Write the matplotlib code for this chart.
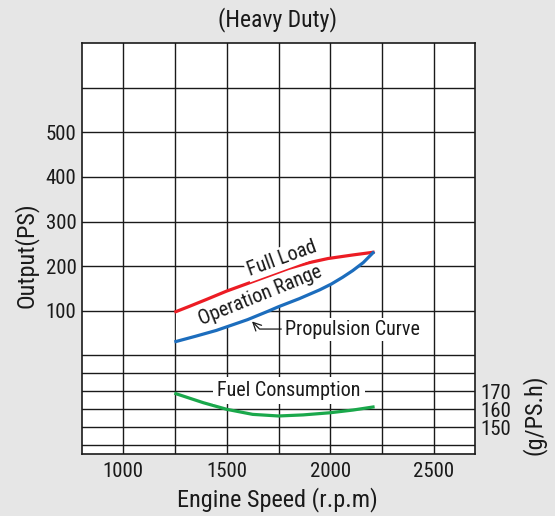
import numpy as np
import matplotlib
matplotlib.use("Agg")
import matplotlib.pyplot as plt

# ── data ────────────────────────────────────────────────
rpm_full = [1254, 1320, 1400, 1499, 1600, 1700, 1800, 1900, 1989, 2109, 2207]
ps_full = [98, 110, 125, 144, 161, 178, 195, 208, 217, 225, 231]

rpm_prop = [1254, 1350, 1450, 1500, 1600, 1700, 1750, 1850, 1950, 2006,
            2060, 2109, 2160, 2207]
ps_prop = [31, 43, 56, 64, 80, 99, 109, 127, 147, 160, 175, 190, 208, 230]

rpm_fuel = [1254, 1386, 1500, 1625, 1750, 1869, 2000, 2110, 2207]
gph_fuel = [168.7, 163.7, 160.0, 157.2, 156.3, 156.9, 158.1, 159.6, 161.3]

x_labels = [1000, 1500, 2000, 2500]
ps_labels = [100, 200, 300, 400, 500]
fuel_labels = [150, 160, 170]

plt.rcParams["font.family"] = ["Roboto Condensed", "Archivo Narrow",
                               "Liberation Sans", "DejaVu Sans"]
BG = "#e6e6e6"
INK = "#1a1a1a"
RED, BLUE, GREEN = "#ec1c24", "#1c6dbd", "#1aa84b"

fig = plt.figure(figsize=(5.55, 5.16), dpi=100, facecolor=BG)
ax = fig.add_axes([82 / 555, 1 - 454 / 516, 393 / 555, 411 / 516])
ax.set_facecolor("white")
ax.set_xlim(800, 2700)
ax.set_ylim(-221, 700)

# grid
ax.set_xticks(x_labels)
ax.set_xticks([1250, 1750, 2250], minor=True)
ax.set_yticks(ps_labels)
ax.set_yticks([0, 600], minor=True)
ax.grid(True, which="both", color=INK, linewidth=1.0)
ax.set_axisbelow(True)
ax.tick_params(which="both", length=0, labelsize=15, pad=4,
               labelcolor=INK)
ax.tick_params(axis="x", pad=6)
for s in ax.spines.values():
    s.set_color(INK)
    s.set_linewidth(1.2)

# operation range (white area hides the grid)
ax.fill(np.concatenate([rpm_full, rpm_prop[::-1]]),
        np.concatenate([ps_full, ps_prop[::-1]]),
        color="white", zorder=2, lw=0)
ax.plot(rpm_full, ps_full, color=RED, lw=2.3, zorder=3)
ax.plot(rpm_prop, ps_prop, color=BLUE, lw=2.3, zorder=3)

box = dict(facecolor="white", edgecolor="none", pad=1.5)
ax.text(1767, 217, "Full Load", rotation=20, ha="center", va="center",
        fontsize=14.5, color=INK, bbox=box, zorder=4)
ax.text(1660, 134, "Operation Range", rotation=22, ha="center", va="center",
        fontsize=14.5, color=INK, zorder=4)
ax.annotate("Propulsion Curve", xy=(1622, 76), xytext=(1780, 59),
            ha="left", va="center", fontsize=14.5, color=INK, bbox=box,
            zorder=4,
            arrowprops=dict(arrowstyle="->", color=INK, lw=0.9,
                            connectionstyle="angle,angleA=0,angleB=135,rad=0",
                            shrinkA=1, shrinkB=0))

# fuel consumption axis
ax2 = ax.twinx()
ax2.set_ylim(190 - 221 / 4.03, 190 + 700 / 4.03)
ax2.set_yticks(fuel_labels)
ax2.set_yticks([140, 180], minor=True)
ax2.grid(True, which="both", color=INK, linewidth=1.0)
ax2.tick_params(which="both", length=0, labelsize=15, pad=4,
                labelcolor=INK)
for s in ax2.spines.values():
    s.set_visible(False)
ax2.plot(rpm_fuel, gph_fuel, color=GREEN, lw=2.3, zorder=3)
ax2.text(1800, 170.4, "Fuel Consumption", ha="center", va="center",
         fontsize=14.5, color=INK,
         bbox=dict(facecolor="white", edgecolor="none", pad=3), zorder=4)

fig.text(278 / 555, 1 - 20 / 516, "(Heavy Duty)", ha="center", va="center",
         fontsize=17, color=INK)
fig.text(277 / 555, 1 - 500 / 516, "Engine Speed (r.p.m)", ha="center",
         va="center", fontsize=17.5, color=INK)
fig.text(26 / 555, 1 - 255 / 516, "Output(PS)", rotation=90, ha="center",
         va="center", fontsize=17.5, color=INK)
fig.text(534 / 555, 1 - 415 / 516, "(g/PS.h)", rotation=90, ha="center",
         va="center", fontsize=17.5, color=INK)

fig.savefig("out.png", dpi=100, facecolor=BG)
